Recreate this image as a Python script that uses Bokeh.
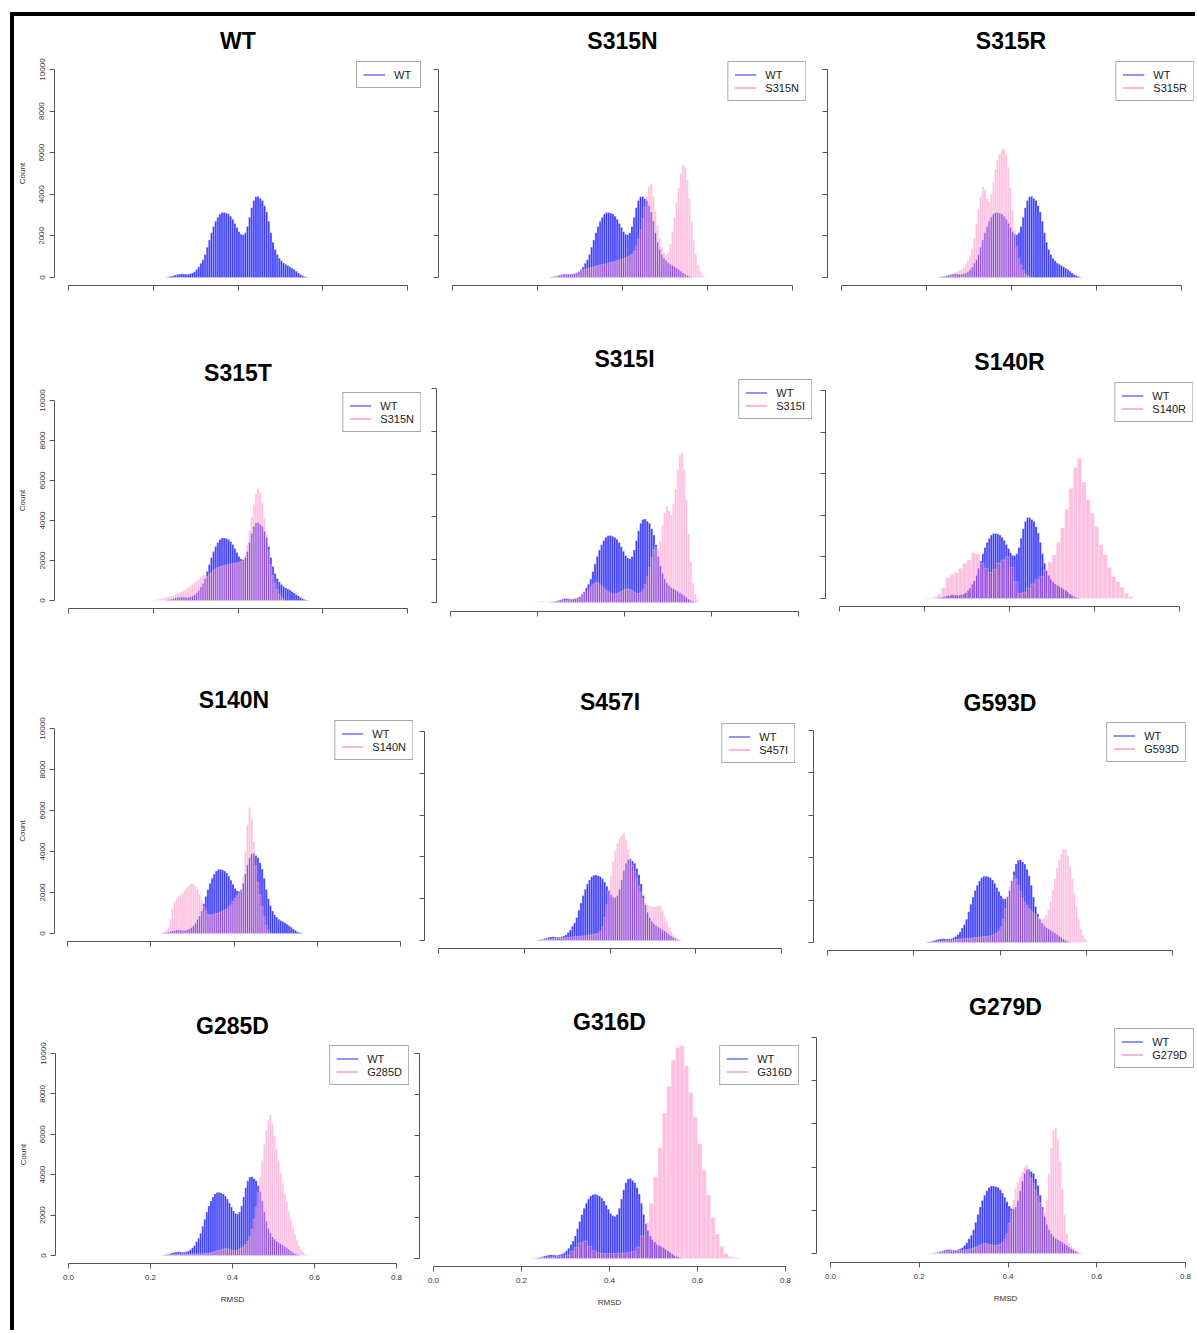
from bokeh.plotting import figure
from bokeh.models import (ColumnDataSource, Range1d, FixedTicker, NumeralTickFormatter,
                          CustomJSTickFormatter, Legend, LegendItem, Spacer)
from bokeh.layouts import column, row
from bokeh.embed import file_html
from bokeh.resources import INLINE

FONT = "Liberation Sans"
X_TICKS = [0.0, 0.2, 0.4, 0.6, 0.8]
Y_TICKS = [0, 2000, 4000, 6000, 8000, 10000]
X_LABEL = "RMSD"
Y_LABEL = "Count"

FINE = 0.005   # bin width (RMSD)
WIDE = 0.01

# ---- data: histogram counts ----
WT_START = 0.230
WT_COUNTS = [20, 40, 60, 90, 120, 150, 170, 180, 170, 160,
             160, 180, 220, 280, 380, 500, 680, 850, 1100, 1450,
             1800, 2150, 2450, 2700, 2900, 3050, 3120, 3130, 3100, 3050,
             2950, 2800, 2600, 2400, 2200, 2080, 2050, 2150, 2450, 2900,
             3350, 3700, 3880, 3900, 3800, 3700, 3450, 3150, 2700, 2150,
             1700, 1350, 1100, 920, 800, 700, 640, 580, 520, 450,
             380, 300, 220, 150, 90, 50, 20]

S315N_START = 0.235
S315N_COUNTS = [30, 50, 70, 90, 110, 130, 150, 160, 170,
                190, 220, 260, 300, 340, 370, 400, 420, 450, 480,
                520, 550, 580, 600, 620, 640, 660, 690, 720, 750,
                780, 810, 840, 870, 900, 950, 1000, 1050, 1120, 1250,
                1500, 1850, 2300, 2850, 3400, 3900, 4350, 4500, 3900, 3200,
                2500, 1900, 1450, 1200, 1100, 1200, 1600, 2200, 2900, 3600,
                4300, 5000, 5450, 5300, 4700, 3800, 2700, 1800, 1100, 600,
                300, 120, 40]

S315R_START = 0.240
S315R_COUNTS = [40, 70, 100, 140, 180, 240, 290, 340,
                400, 500, 650, 800, 1050, 1400, 1900, 2600, 3300, 3900,
                4350, 4200, 3800, 3650, 4000, 4600, 5200, 5650, 5950, 6150,
                6200, 5900, 5300, 4300, 3200, 2300, 1500, 900, 600, 350,
                170, 90, 40]

S315T_START = 0.195
S315T_COUNTS = [20, 30, 40, 60, 80, 110, 140, 170, 200, 230,
                260, 300, 350, 400, 450, 500, 580, 650, 730, 800,
                880, 960, 1050, 1150, 1300, 1250, 1200, 1300, 1400, 1500,
                1580, 1640, 1680, 1720, 1750, 1780, 1800, 1820, 1840, 1860,
                1880, 1900, 1950, 2050, 2300, 2800, 3500, 4200, 4800, 5300,
                5600, 5400, 4900, 4100, 3300, 2500, 1800, 1250, 850, 550,
                320, 170, 70]

S315I_START = 0.200
S315I_COUNTS = [40, 50, 50, 40, 30, 30, 40, 50, 60, 70,
                80, 90, 100, 110, 130, 150, 180, 210, 240, 290,
                350, 420, 500, 600, 720, 850, 920, 940, 880, 780,
                680, 580, 500, 440, 400, 390, 420, 470, 520, 570,
                610, 630, 620, 560, 480, 420, 420, 480, 600, 850,
                1200, 1650, 2100, 2500, 2600, 2500, 2900, 3600, 4200, 4500,
                4300, 4100, 4600, 5300, 6200, 6900, 7000, 6200, 4800, 3200,
                1900, 900, 400, 150]

S140R_START = 0.20
S140R_COUNTS = [20, 40, 80, 200, 500, 1000, 1150, 1250, 1450, 1700,
                1850, 2200, 2150, 1700, 1450, 1250, 1400, 1700, 1850, 2000,
                1500, 800, 250, 300, 500, 700, 900, 1050, 1360, 1750,
                2100, 2700, 3400, 4300, 5300, 6300, 6750, 5600, 4750, 4100,
                3450, 2600, 2100, 1500, 1050, 800, 550, 250, 100, 30]

S140N_START = 0.220
S140N_COUNTS = [30, 60, 100, 150, 300, 700, 1200, 1550, 1700, 1800,
                1900, 2000, 2100, 2250, 2350, 2450, 2400, 2300, 2150, 1900,
                1600, 1300, 1100, 950, 900, 920, 950, 980, 1000, 1050,
                1100, 1150, 1200, 1300, 1400, 1550, 1700, 1850, 1950, 2100,
                2800, 4000, 5300, 6150, 5600, 4500, 3300, 2500, 1900, 1300,
                800, 400, 150]

S457I_START = 0.235
S457I_COUNTS = [40, 50, 60, 70, 70, 80, 80, 90, 100,
                110, 120, 130, 140, 150, 160, 170, 180, 190, 200,
                210, 220, 230, 240, 260, 280, 300, 320, 350, 450,
                650, 1100, 1700, 2400, 3100, 3800, 4300, 4650, 4900, 5050,
                5150, 4800, 4350, 3950, 3600, 3300, 3000, 2600, 2300, 2000,
                1800, 1700, 1650, 1650, 1600, 1600, 1700, 1650, 1450, 1150,
                900, 650, 450, 280, 160, 70]

G593D_START = 0.240
G593D_COUNTS = [20, 30, 40, 50, 60, 70, 80, 90,
                100, 110, 120, 140, 150, 160, 170, 180, 190, 200,
                210, 220, 230, 240, 250, 260, 280, 290, 300, 320,
                350, 400, 450, 550, 750, 1100, 1600, 2200, 2650, 2950,
                3150, 3000, 2700, 2400, 2100, 1900, 1750, 1600, 1500, 1400,
                1300, 1200, 1150, 1100, 1150, 1300, 1550, 1950, 2500, 3000,
                3500, 3900, 4200, 4400, 4400, 4100, 3600, 3000, 2300, 1700,
                1100, 650, 350, 150, 50]

G285D_START = 0.230
G285D_COUNTS = [20, 30, 30, 40, 40, 50, 50, 60, 60, 60,
                60, 70, 70, 70, 70, 80, 80, 80, 80, 80,
                90, 100, 120, 140, 170, 200, 230, 260, 290, 320,
                340, 330, 300, 270, 250, 250, 270, 310, 370, 450,
                550, 700, 950, 1300, 1800, 2400, 3100, 3900, 4700, 5500,
                6200, 6700, 6950, 6500, 5900, 5300, 4700, 4100, 3600, 3100,
                2650, 2200, 1800, 1400, 1050, 750, 500, 300, 170, 90,
                40]

G316D_START = 0.22
G316D_COUNTS = [20, 40, 50, 60, 70, 80, 100, 130, 170, 350,
                550, 750, 850, 600, 380, 280, 250, 240, 240, 250,
                260, 270, 290, 350, 550, 1100, 1750, 2700, 4000, 5400,
                7100, 8400, 9700, 10300, 10400, 9400, 8100, 6900, 5600, 4300,
                3100, 2000, 1200, 600, 250, 100, 50, 20]

G279D_START = 0.235
G279D_COUNTS = [30, 50, 60, 80, 90, 110, 130, 140, 150,
                150, 140, 140, 150, 160, 180, 200, 220, 250, 290,
                340, 390, 430, 460, 450, 420, 390, 380, 380, 390,
                420, 500, 650, 900, 1400, 1950, 2500, 3000, 3300, 3550,
                3800, 4000, 4100, 3850, 3500, 3250, 2950, 2650, 2350, 2050,
                1900, 2500, 3700, 4900, 5700, 5800, 5300, 4300, 3000, 1800,
                900, 500, 350, 250, 150, 80, 30]

TITLES = ["WT", "S315N", "S315R",
          "S315T", "S315I", "S140R",
          "S140N", "S457I", "G593D",
          "G285D", "G316D", "G279D"]
LEGEND_NAMES = [None, "S315N", "S315R",
                "S315N", "S315I", "S140R",
                "S140N", "S457I", "G593D",
                "G285D", "G316D", "G279D"]
MUTANTS = [None,
           (S315N_START, FINE, S315N_COUNTS), (S315R_START, FINE, S315R_COUNTS),
           (S315T_START, FINE, S315T_COUNTS), (S315I_START, FINE, S315I_COUNTS),
           (S140R_START, WIDE, S140R_COUNTS),
           (S140N_START, FINE, S140N_COUNTS), (S457I_START, FINE, S457I_COUNTS),
           (G593D_START, FINE, G593D_COUNTS),
           (G285D_START, FINE, G285D_COUNTS), (G316D_START, WIDE, G316D_COUNTS),
           (G279D_START, FINE, G279D_COUNTS)]

# ---- layout geometry (page pixels): x of 0.0, x of 0.8, y of 0, y of 10000 ----
PANEL_PX = [(68, 407, 277, 69), (452, 792, 277, 69), (841, 1181, 277, 69),
            (68, 407, 600, 400), (450, 798, 602, 388), (839, 1179, 598, 390),
            (67, 400, 933, 728), (438, 781, 940, 731), (827, 1172, 942, 730),
            (68, 396, 1255, 1053), (433, 785, 1258, 1053), (830, 1185, 1253, 1037)]
TITLE_GAP = [21, 21, 21, 20, 21, 21, 22, 23, 20, 20, 27, 23]   # title centre above frame
ROW_BOUNDS = [16, 330, 660, 980, 1322]
COL_BOUNDS = [[14, 428, 818, 1195], [14, 428, 818, 1195],
              [14, 419, 804, 1195], [14, 412, 807, 1195]]
RIGHT_LIMIT = 1194

BLUE = "#3a3aff"
PINK = "#ff69b4"
AXIS_COL = "#555555"
LABEL_COL = "#333333"
NAN = float("nan")


def bar_source(start, width, counts):
    left = [round(start + k * width, 4) for k in range(len(counts))]
    right = [round(l + width, 4) for l in left]
    return ColumnDataSource(dict(left=left, right=right, top=counts))


def style_axis(ax, labeled, orientation=None):
    ax.axis_line_color = AXIS_COL
    ax.major_tick_line_color = AXIS_COL
    ax.major_tick_out = 5
    ax.major_tick_in = 0
    ax.minor_tick_line_color = None
    ax.major_label_text_font = FONT
    ax.major_label_text_color = LABEL_COL
    ax.axis_label_text_font = FONT
    ax.axis_label_text_font_style = "normal"
    ax.axis_label_text_color = LABEL_COL
    ax.axis_label_text_font_size = "8px"
    if labeled:
        ax.major_label_text_font_size = "8px"
    else:
        ax.formatter = CustomJSTickFormatter(code="return '';")
        ax.major_label_text_font_size = "1px"
        ax.major_label_standoff = 0
    if orientation is not None:
        ax.major_label_orientation = orientation


def make_panel(i):
    r, c = divmod(i, 3)
    x0, x8, y0, y10 = PANEL_PX[i]
    pux = (x8 - x0) / 0.8
    puy = (y0 - y10) / 10000.0
    f_left = round(x0 - 0.032 * pux)
    f_right = round(min(x8 + 0.032 * pux, RIGHT_LIMIT))
    f_top = round(y10 - 400 * puy)
    f_bottom = round(y0 + 400 * puy)
    x_end = 0.8 + (f_right - x8) / pux
    x_start = 0.0 - (x0 - f_left) / pux
    y_start = -(f_bottom - y0) / puy
    y_end = 10000 + (y10 - f_top) / puy
    bl, br = COL_BOUNDS[r][c], COL_BOUNDS[r][c + 1]
    rt, rb = ROW_BOUNDS[r], ROW_BOUNDS[r + 1]

    p = figure(frame_width=f_right - f_left, frame_height=f_bottom - f_top,
               min_border_left=f_left - bl, min_border_right=br - f_right,
               min_border_top=f_top - rt, min_border_bottom=rb - f_bottom,
               x_range=Range1d(x_start, x_end), y_range=Range1d(y_start, y_end),
               toolbar_location=None, output_backend="svg", title=TITLES[i])
    p.frame_align = False
    p.title.align = "center"
    p.title.text_font = FONT
    p.title.text_font_size = "23px"
    p.title.text_font_style = "bold"
    p.title.text_color = "black"
    p.title.standoff = TITLE_GAP[i] - 6
    p.xgrid.visible = False
    p.ygrid.visible = False
    p.outline_line_color = None
    p.background_fill_color = "white"
    p.border_fill_color = "white"

    p.quad(left="left", right="right", top="top", bottom=0,
           source=bar_source(WT_START, FINE, WT_COUNTS),
           fill_color=BLUE, fill_alpha=1.0,
           line_color="white", line_alpha=0.45, line_width=0.6)
    items = []
    wt_line = p.line(x=[NAN, NAN], y=[NAN, NAN], line_color="#6f6fff", line_width=1.5)
    items.append(LegendItem(label="WT", renderers=[wt_line]))
    if MUTANTS[i] is not None:
        start, width, counts = MUTANTS[i]
        p.quad(left="left", right="right", top="top", bottom=0,
               source=bar_source(start, width, counts),
               fill_color=PINK, fill_alpha=0.42,
               line_color="white", line_alpha=0.45, line_width=0.6)
        mut_line = p.line(x=[NAN, NAN], y=[NAN, NAN], line_color="#ff9cc6", line_width=1.5)
        items.append(LegendItem(label=LEGEND_NAMES[i], renderers=[mut_line]))

    legend = Legend(items=items, location="top_right", margin=0, padding=6,
                    spacing=0, glyph_width=22, glyph_height=13, label_height=13,
                    label_standoff=9, label_text_font=FONT,
                    label_text_font_size="11px", label_text_color="#222222",
                    border_line_color="#555555", border_line_width=1,
                    background_fill_color="white", background_fill_alpha=1.0)
    p.add_layout(legend)

    xa = p.xaxis[0]
    xa.ticker = FixedTicker(ticks=X_TICKS)
    xa.bounds = (X_TICKS[0], X_TICKS[-1])
    if r == 3:
        xa.formatter = NumeralTickFormatter(format="0.0")
        style_axis(xa, True)
        xa.major_label_standoff = 6
        xa.axis_label = X_LABEL
        xa.axis_label_standoff = 12
    else:
        style_axis(xa, False)

    ya = p.yaxis[0]
    ya.ticker = FixedTicker(ticks=Y_TICKS)
    ya.bounds = (Y_TICKS[0], Y_TICKS[-1])
    if c == 0:
        style_axis(ya, True, "vertical")
        ya.major_label_standoff = 5
        ya.axis_label = Y_LABEL
        ya.axis_label_standoff = 10
    else:
        style_axis(ya, False)
    return p


panels = [make_panel(i) for i in range(12)]
rows = [row(*panels[3 * k:3 * k + 3], spacing=0) for k in range(4)]
grid = column(*rows, spacing=0)

top_bar = Spacer(width=1185, height=4, margin=(12, 0, 0, 10),
                 styles={"background-color": "black"})
left_bar = Spacer(width=4, height=1314, margin=(0, 0, 0, 10),
                  styles={"background-color": "black"})
root = column(top_bar, row(left_bar, grid, spacing=0), spacing=0)

open("out.html", "w").write(file_html(root, INLINE, title="RMSD histograms"))
